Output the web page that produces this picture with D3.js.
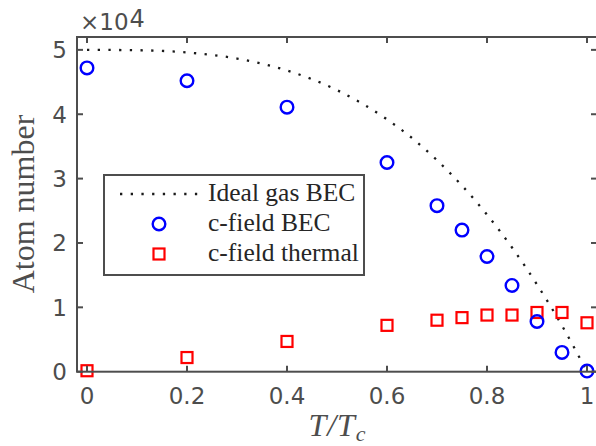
<!DOCTYPE html>
<html>
<head>
<meta charset="utf-8">
<script src="https://cdn.jsdelivr.net/npm/d3@7"></script>
<style>
  body { margin: 0; background: #fff; }
  svg { display: block; }
</style>
</head>
<body>
<svg id="chart" width="596" height="446"></svg>
<script>
// data (atom numbers in units of 1e4)
const tempBEC = [0, 0.2, 0.4, 0.6, 0.7, 0.75, 0.8, 0.85, 0.9, 0.95, 1.0];
const becCounts = [4.72, 4.52, 4.11, 3.25, 2.58, 2.2, 1.79, 1.34, 0.78, 0.3, 0.01];
const thermalCounts = [0.015, 0.22, 0.47, 0.72, 0.8, 0.84, 0.88, 0.88, 0.92, 0.92, 0.76];

const idealT = [0, 0.1, 0.2, 0.3, 0.4, 0.5, 0.6, 0.65, 0.7, 0.75, 0.8, 0.85, 0.9, 0.95, 1.0];
const idealCounts = [5.0, 4.995, 4.96, 4.865, 4.68, 4.375, 3.92, 3.63, 3.285, 2.89, 2.44, 1.93, 1.355, 0.715, 0.0];

const xTicks = [0, 0.2, 0.4, 0.6, 0.8, 1];
const yTicks = [0, 1, 2, 3, 4, 5];
const legendLabels = ["Ideal gas BEC", "c-field BEC", "c-field thermal"];

const axisColor = "#4d4d4d";
const svg = d3.select("#chart");

const mLeft = 77, mRight = 597, mTop = 37, mBottom = 371.7;

const x = d3.scaleLinear().domain([-0.02, 1.02]).range([mLeft, mRight]);
const y = d3.scaleLinear().domain([0, 5.2]).range([mBottom, mTop]);

// ideal gas curve (dotted)
const line = d3.line()
  .x((d, i) => x(idealT[i]))
  .y((d) => y(d))
  .curve(d3.curveMonotoneX);

svg.append("path")
  .datum(idealCounts)
  .attr("d", line)
  .attr("fill", "none")
  .attr("stroke", "#1a1a1a")
  .attr("stroke-width", 2.3)
  .attr("stroke-dasharray", "2.3,8.4");

// c-field thermal squares
const sq = 11;
svg.append("g")
  .selectAll("rect")
  .data(thermalCounts)
  .enter()
  .append("rect")
  .attr("x", (d, i) => x(tempBEC[i]) - sq / 2)
  .attr("y", (d) => y(d) - sq / 2)
  .attr("width", sq)
  .attr("height", sq)
  .attr("fill", "none")
  .attr("stroke", "#ff0000")
  .attr("stroke-width", 2.2);

// c-field BEC circles
svg.append("g")
  .selectAll("circle")
  .data(becCounts)
  .enter()
  .append("circle")
  .attr("cx", (d, i) => x(tempBEC[i]))
  .attr("cy", (d) => y(d))
  .attr("r", 6.3)
  .attr("fill", "none")
  .attr("stroke", "#0000ff")
  .attr("stroke-width", 2.4);

// box
svg.append("rect")
  .attr("x", mLeft)
  .attr("y", mTop)
  .attr("width", mRight - mLeft)
  .attr("height", mBottom - mTop)
  .attr("fill", "none")
  .attr("stroke", axisColor)
  .attr("stroke-width", 2);

// ticks, pointing inwards on all four sides
const tickLen = 6;
const ticks = svg.append("g").attr("stroke", axisColor).attr("stroke-width", 2);
xTicks.forEach((t) => {
  ticks.append("line").attr("x1", x(t)).attr("x2", x(t)).attr("y1", mBottom).attr("y2", mBottom - tickLen);
  ticks.append("line").attr("x1", x(t)).attr("x2", x(t)).attr("y1", mTop).attr("y2", mTop + tickLen);
});
yTicks.forEach((v) => {
  ticks.append("line").attr("x1", mLeft).attr("x2", mLeft + tickLen).attr("y1", y(v)).attr("y2", y(v));
  ticks.append("line").attr("x1", mRight).attr("x2", mRight - tickLen).attr("y1", y(v)).attr("y2", y(v));
});

// tick labels
const tickFont = "'DejaVu Sans', 'Liberation Sans', sans-serif";
svg.append("g")
  .selectAll("text")
  .data(xTicks)
  .enter()
  .append("text")
  .attr("x", (d) => x(d))
  .attr("y", 404)
  .attr("text-anchor", "middle")
  .style("font-family", tickFont)
  .style("font-size", "23px")
  .style("fill", axisColor)
  .text((d) => d3.format("~g")(d));

svg.append("g")
  .selectAll("text")
  .data(yTicks)
  .enter()
  .append("text")
  .attr("x", 67)
  .attr("y", (d) => y(d) + 8.5)
  .attr("text-anchor", "end")
  .style("font-family", tickFont)
  .style("font-size", "23px")
  .style("fill", axisColor)
  .text((d) => d);

// exponent
const expo = svg.append("text")
  .attr("x", 80)
  .attr("y", 30)
  .style("font-family", tickFont)
  .style("font-size", "23px")
  .style("fill", axisColor);
expo.append("tspan").text("\u00d710");
expo.append("tspan").attr("dy", -3).attr("dx", 1).style("font-size", "24px").text("4");

// axis labels
const serif = "'Liberation Serif', 'Times New Roman', serif";
const xLabel = svg.append("text")
  .attr("x", 337)
  .attr("y", 436)
  .attr("text-anchor", "middle")
  .style("font-family", serif)
  .style("font-style", "italic")
  .style("font-size", "32px")
  .style("fill", axisColor);
xLabel.append("tspan").text("T");
xLabel.append("tspan").attr("dx", 1).text("/");
xLabel.append("tspan").attr("dx", 1).text("T");
xLabel.append("tspan").attr("dy", 5).attr("dx", 1).style("font-size", "22px").text("c");

svg.append("text")
  .attr("transform", "translate(34,204) rotate(-90)")
  .attr("text-anchor", "middle")
  .style("font-family", serif)
  .style("font-size", "32px")
  .style("fill", axisColor)
  .text("Atom number");

// legend
const legend = svg.append("g");
legend.append("rect")
  .attr("x", 104)
  .attr("y", 175)
  .attr("width", 260)
  .attr("height", 100)
  .attr("fill", "#fff")
  .attr("stroke", axisColor)
  .attr("stroke-width", 2);

const rowY = [194, 224, 254];
legend.append("line")
  .attr("x1", 120).attr("x2", 199)
  .attr("y1", rowY[0]).attr("y2", rowY[0])
  .attr("stroke", "#1a1a1a")
  .attr("stroke-width", 2.3)
  .attr("stroke-dasharray", "2.3,8.4");
legend.append("circle")
  .attr("cx", 159).attr("cy", rowY[1]).attr("r", 6.3)
  .attr("fill", "none").attr("stroke", "#0000ff").attr("stroke-width", 2.4);
legend.append("rect")
  .attr("x", 159 - sq / 2).attr("y", rowY[2] - sq / 2)
  .attr("width", sq).attr("height", sq)
  .attr("fill", "none").attr("stroke", "#ff0000").attr("stroke-width", 2.2);

legend.selectAll("text.lbl")
  .data(legendLabels)
  .enter()
  .append("text")
  .attr("class", "lbl")
  .attr("x", 208)
  .attr("y", (d, i) => rowY[i] + 7)
  .style("font-family", serif)
  .style("font-size", "25.5px")
  .style("fill", "#262626")
  .text((d) => d);
</script>
</body>
</html>
